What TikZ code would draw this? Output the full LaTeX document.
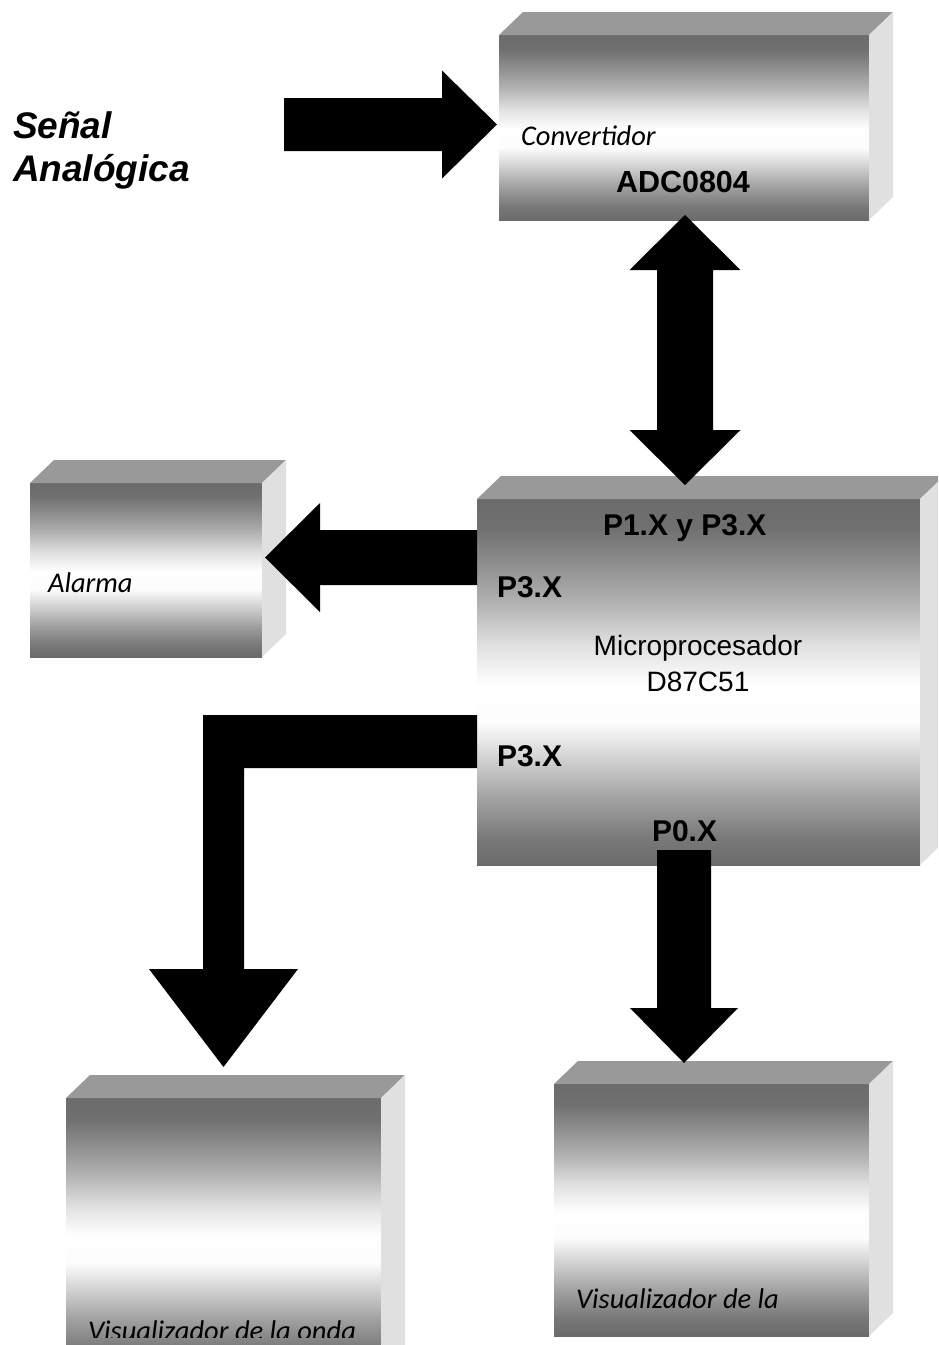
\documentclass[tikz,border=0pt]{standalone}
\usepackage{fontspec}
\usetikzlibrary{calc}
\newfontfamily\arialf{Liberation Sans}
\newfontfamily\calf{Carlito}
\definecolor{topgray}{gray}{0.6}
\definecolor{sidegray}{gray}{0.88}
\pgfdeclareverticalshading{boxshade}{100bp}{rgb(0bp)=(0.42,0.42,0.42); rgb(25bp)=(0.42,0.42,0.42); rgb(28.5bp)=(0.47,0.47,0.47); rgb(34bp)=(0.63,0.63,0.63); rgb(39.5bp)=(0.82,0.82,0.82); rgb(44.5bp)=(0.99,0.99,0.99); rgb(49.5bp)=(1,1,1); rgb(55bp)=(0.88,0.88,0.88); rgb(61bp)=(0.69,0.69,0.69); rgb(66.5bp)=(0.55,0.55,0.55); rgb(71bp)=(0.44,0.44,0.44); rgb(75bp)=(0.42,0.42,0.42); rgb(100bp)=(0.42,0.42,0.42)}
\tikzset{
  box/.style={rectangle, inner sep=0pt, outer sep=0pt, anchor=north west, shade, shading=boxshade},
  topface/.style={fill=topgray},
  sideface/.style={fill=sidegray},
  blk/.style={fill=black},
  lbl/.style={anchor=base west, inner sep=0pt, outer sep=0pt},
  ital/.style={lbl, font=\calf\itshape\fontsize{28.5}{32}\selectfont},
  port/.style={lbl, font=\arialf\bfseries\fontsize{30}{36}\selectfont},
}
\newcommand\boxfaces[1]{%
  \fill[topface] (#1.north west) -- ++(24,-23) -- ($(#1.north east)+(24,-23)$) -- (#1.north east) -- cycle;
  \fill[sideface] (#1.north east) -- ++(24,-23) -- ($(#1.south east)+(24,-23)$) -- (#1.south east) -- cycle;}
% single block arrow: tail, tip, half shaft, half head, head length
\newcommand\blockarrow[5]{%
  \coordinate (bah) at ($(#2)!#5!(#1)$);
  \fill[blk] ($(#1)!#3!90:(#2)$) -- ($(bah)!#3!90:(#2)$) -- ($(bah)!#4!90:(#2)$) -- (#2)
    -- ($(bah)!#4!-90:(#2)$) -- ($(bah)!#3!-90:(#2)$) -- ($(#1)!#3!-90:(#2)$) -- cycle;}
% double block arrow
\newcommand\dblarrow[5]{%
  \coordinate (dhA) at ($(#1)!#5!(#2)$);
  \coordinate (dhB) at ($(#2)!#5!(#1)$);
  \fill[blk] (#1) -- ($(dhA)!#4!90:(#2)$) -- ($(dhA)!#3!90:(#2)$) -- ($(dhB)!#3!90:(#2)$)
    -- ($(dhB)!#4!90:(#2)$) -- (#2) -- ($(dhB)!#4!-90:(#2)$) -- ($(dhB)!#3!-90:(#2)$)
    -- ($(dhA)!#3!-90:(#2)$) -- ($(dhA)!#4!-90:(#2)$) -- cycle;}
\begin{document}
\begin{tikzpicture}[x=1pt,y=-1pt]
\useasboundingbox (0,0) rectangle (938,1345);
\fill[white] (0,0) rectangle (938,1345);
\clip (0,0) rectangle (938,1345);

% boxes
\node[box, minimum width=370pt, minimum height=185pt] (adc) at (499,35) {};
\boxfaces{adc}
\node[box, minimum width=232pt, minimum height=174pt] (alarma) at (30,483) {};
\boxfaces{alarma}
\node[box, minimum width=443pt, minimum height=366pt] (mp) at (477,499) {};
\boxfaces{mp}
\node[box, minimum width=315pt, minimum height=270pt] (vwave) at (66,1098) {};
\boxfaces{vwave}
\node[box, minimum width=315pt, minimum height=252pt] (vdisp) at (554,1084) {};
\boxfaces{vdisp}

% texts
\node[lbl, font=\arialf\bfseries\itshape\fontsize{37}{43}\selectfont] (senal1) at (13,138) {Señal};
\node[lbl, font=\arialf\bfseries\itshape\fontsize{37}{43}\selectfont] (senal2) at (13,181) {Analógica};
\node[ital] (tconv) at (521,145) {Convertidor};
\node[lbl, font=\arialf\bfseries\fontsize{30.5}{36}\selectfont] (tadc) at (616,192) {ADC0804};
\node[port] (tp13) at (603,535) {P1.X y P3.X};
\node[port] (tp3a) at (497,597) {P3.X};
\node[port] (tp3b) at (497,766) {P3.X};
\node[port] (tp0) at (652,841) {P0.X};
\node[anchor=base, inner sep=0pt, font=\arialf\fontsize{28}{36}\selectfont] (tmp1) at (698,655) {Microprocesador};
\node[anchor=base, inner sep=0pt, font=\arialf\fontsize{28}{36}\selectfont] (tmp2) at (698,691) {D87C51};
\node[ital] (talarma) at (48,592) {Alarma};
\node[ital] (tvdisp) at (576,1308) {Visualizador de la};
\begin{scope}
  \clip (0,0) rectangle (938,1337);
  \node[ital] (tvwave) at (88,1340) {Visualizador de la onda};
\end{scope}

% arrows
\coordinate (sigtail) at (284,124.5);
\coordinate (sigtip) at ($(adc.west)+(-2,-3)$);
\blockarrow{sigtail}{sigtip}{26.5pt}{54pt}{55pt}

\coordinate (busA) at ($(adc.south)+(1,-5)$);
\coordinate (busB) at ($(mp.north)+(-13.5,-14)$);
\dblarrow{busA}{busB}{28pt}{55.5pt}{55pt}

\coordinate (almtail) at ($(mp.west)+(0,-124.5)$);
\coordinate (almtip) at ($(alarma.east)+(3,-12.5)$);
\blockarrow{almtail}{almtip}{27.5pt}{54.5pt}{55pt}

\coordinate (p0tail) at ($(mp.south)+(-14.5,-15)$);
\coordinate (p0tip) at ($(vdisp.north)+(-27.5,-21)$);
\blockarrow{p0tail}{p0tip}{27pt}{54pt}{55pt}

\coordinate (e0) at ($(mp.west)+(0,59.5)$);
\coordinate (etip) at ($(vwave.north)+(0,-31)$);
\coordinate (ebend) at (etip |- e0);
\fill[blk] ($(e0)+(0,-26.5)$) -- ($(ebend)+(-20.5,-26.5)$) -- ($(etip)+(-20.5,-98)$)
  -- ($(etip)+(-74.5,-98)$) -- (etip) -- ($(etip)+(74.5,-98)$) -- ($(etip)+(20.5,-98)$)
  -- ($(ebend)+(20.5,26.5)$) -- ($(e0)+(0,26.5)$) -- cycle;
\end{tikzpicture}
\end{document}
